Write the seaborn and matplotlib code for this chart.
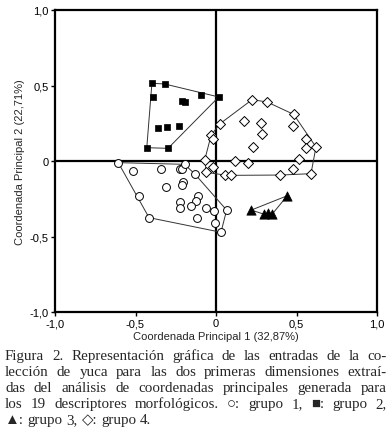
import matplotlib
matplotlib.use("Agg")
import matplotlib.pyplot as plt
import seaborn as sns
import pandas as pd
import numpy as np

# grupo 1 (circulos)
g1_x = [-0.607, -0.516, -0.342, -0.222, -0.211, -0.195, -0.130, -0.207, -0.211, -0.312, -0.476, -0.110,
        -0.126, -0.225, -0.225, -0.155, -0.064, -0.012, 0.066, -0.118, -0.416, -0.006, 0.031]
g1_y = [-0.011, -0.066, -0.055, -0.055, -0.055, -0.022, -0.088, -0.141, -0.157, -0.174, -0.234, -0.232,
        -0.265, -0.272, -0.309, -0.296, -0.313, -0.333, -0.325, -0.377, -0.375, -0.413, -0.472]
# grupo 2 (cuadrados)
g2_x = [-0.398, -0.319, -0.389, -0.093, 0.017, -0.213, -0.190, -0.360, -0.302, -0.232, -0.430, -0.298]
g2_y = [0.515, 0.510, 0.426, 0.435, 0.424, 0.400, 0.389, 0.219, 0.223, 0.230, 0.088, 0.084]
# grupo 3 (triangulos)
g3_x = [0.443, 0.219, 0.300, 0.323, 0.348]
g3_y = [-0.230, -0.325, -0.353, -0.347, -0.353]
# grupo 4 (rombos)
g4_x = [0.224, 0.317, 0.482, 0.025, 0.172, 0.280, 0.476, 0.288, -0.030, -0.020, 0.557, 0.228, 0.559,
        0.621, -0.070, 0.116, 0.201, 0.516, -0.019, -0.060, 0.054, 0.091, 0.400, 0.480, 0.590]
g4_y = [0.406, 0.391, 0.309, 0.247, 0.267, 0.250, 0.230, 0.181, 0.172, 0.148, 0.144, 0.093, 0.086,
        0.093, 0.007, 0.000, -0.013, 0.015, -0.038, -0.075, -0.093, -0.095, -0.093, -0.051, -0.084]

ticks = [-1.0, -0.5, 0, 0.5, 1.0]
tick_labels = ["-1,0", "-0,5", "0", "0,5", "1,0"]

caption_lines = [
    "Figura 2. Representación gráfica de las entradas de la co-",
    "lección de yuca para las dos primeras dimensiones extraí-",
    "das del análisis de coordenadas principales generada para",
    "los 19 descriptores morfológicos. ○: grupo 1, ■: grupo 2,",
    "▲: grupo 3, ◇: grupo 4.",
]


def hull(xs, ys):
    pts = sorted(set(zip(xs, ys)))
    def cross(o, a, b):
        return (a[0] - o[0]) * (b[1] - o[1]) - (a[1] - o[1]) * (b[0] - o[0])
    lower, upper = [], []
    for p in pts:
        while len(lower) >= 2 and cross(lower[-2], lower[-1], p) <= 0:
            lower.pop()
        lower.append(p)
    for p in reversed(pts):
        while len(upper) >= 2 and cross(upper[-2], upper[-1], p) <= 0:
            upper.pop()
        upper.append(p)
    h = lower[:-1] + upper[:-1]
    h.append(h[0])
    return [p[0] for p in h], [p[1] for p in h]


sns.set_style("white")
plt.rcParams['font.family'] = ['Liberation Sans', 'DejaVu Sans']

fig = plt.figure(figsize=(3.91, 4.35), dpi=100)
ax = fig.add_axes([55 / 391, 1 - 313 / 435, 322 / 391, 302 / 435])

ax.axhline(0, color="black", lw=1.6, zorder=1)
ax.axvline(0, color="black", lw=1.6, zorder=1)

for xs, ys in [(g1_x, g1_y), (g2_x, g2_y), (g3_x, g3_y), (g4_x, g4_y)]:
    hx, hy = hull(xs, ys)
    ax.plot(hx, hy, color="#333333", lw=0.7, zorder=2)

sns.scatterplot(x=g1_x, y=g1_y, marker="o", s=32, facecolor="white", edgecolor="black",
                linewidth=0.7, ax=ax, zorder=3)
sns.scatterplot(x=g2_x, y=g2_y, marker="s", s=22, color="black", edgecolor="black",
                linewidth=0.5, ax=ax, zorder=3)
sns.scatterplot(x=g3_x, y=g3_y, marker="^", s=45, color="black", edgecolor="black",
                linewidth=0.5, ax=ax, zorder=3)
sns.scatterplot(x=g4_x, y=g4_y, marker="D", s=26, facecolor="white", edgecolor="black",
                linewidth=0.7, ax=ax, zorder=3)

ax.set_xlim(-1, 1)
ax.set_ylim(-1, 1)
ax.set_xticks(ticks)
ax.set_xticklabels(tick_labels)
ax.set_yticks(ticks)
ax.set_yticklabels(tick_labels)
ax.tick_params(direction="out", length=3, width=1, labelsize=8, pad=1.5, colors="black",
               bottom=True, left=True)
for s in ax.spines.values():
    s.set_color("black")
    s.set_linewidth(1.6)
ax.set_xlabel("Coordenada Principal 1 (32,87%)", fontsize=8, labelpad=2)
ax.set_ylabel("Coordenada Principal 2 (22,71%)", fontsize=8, labelpad=3)

# pie de figura justificado
renderer = fig.canvas.get_renderer()
left_px, right_px = 5, 387
base_y = [360, 376, 392, 408, 424]
serif = ['Liberation Serif', 'DejaVu Serif']
fs = 10.8
for i, line in enumerate(caption_lines):
    words = line.split(" ")
    objs = [fig.text(0, 0, w, fontsize=fs, family=serif, va="baseline", ha="left") for w in words]
    widths = [o.get_window_extent(renderer).width for o in objs]
    if i < len(caption_lines) - 1:
        gap = (right_px - left_px - sum(widths)) / (len(words) - 1)
    else:
        sp = fig.text(0, 0, "a a", fontsize=fs, family=serif)
        sp2 = fig.text(0, 0, "aa", fontsize=fs, family=serif)
        gap = sp.get_window_extent(renderer).width - sp2.get_window_extent(renderer).width
        sp.remove()
        sp2.remove()
    x = left_px
    for o, w in zip(objs, widths):
        o.set_position((x / 391, 1 - base_y[i] / 435))
        x += w + gap

fig.savefig("out.png", dpi=100)
